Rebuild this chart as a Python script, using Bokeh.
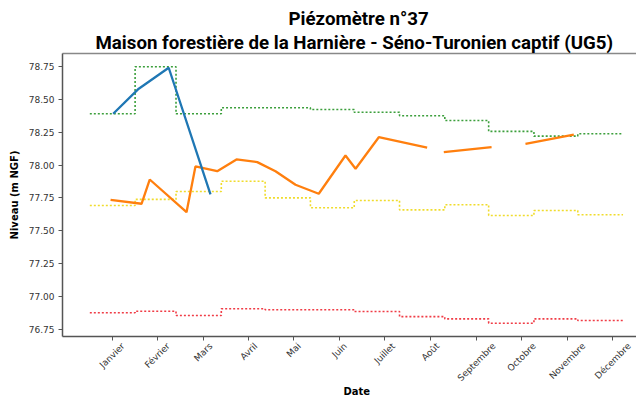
import math
from bokeh.plotting import figure
from bokeh.models import (FixedTicker, LinearAxis, Title, PrintfTickFormatter, Range1d)
from bokeh.embed import file_html
from bokeh.resources import INLINE

# ---------------- data ----------------
title_line1 = "Piézomètre n°37"
title_line2 = "Maison forestière de la Harnière - Séno-Turonien captif (UG5)"
x_label = "Date"
y_label = "Niveau (m NGF)"

month_labels = ["Janvier", "Février", "Mars", "Avril", "Mai", "Juin", "Juillet",
                "Août", "Septembre", "Octobre", "Novembre", "Décembre"]
month_tick_days = [15.3, 46.1, 77.6, 108.8, 139.6, 170.9, 201.9, 233.2,
                   264.7, 295.5, 326.8, 358.0]
month_start_days = [0, 31, 59, 90, 120, 151, 181, 212, 243, 273, 304, 334, 365]

y_ticks = [76.75, 77.00, 77.25, 77.50, 77.75, 78.00, 78.25, 78.50, 78.75]

green_levels = [78.389, 78.745, 78.389, 78.434, 78.434, 78.421, 78.400, 78.374,
                78.338, 78.255, 78.219, 78.237]
yellow_levels = [77.693, 77.739, 77.799, 77.877, 77.751, 77.676, 77.731, 77.660,
                 77.698, 77.617, 77.655, 77.623]
red_levels = [76.879, 76.891, 76.858, 76.909, 76.902, 76.902, 76.889, 76.850,
              76.833, 76.800, 76.833, 76.820]

blue_days = [16.0, 33.5, 54.0, 82.6]
blue_levels = [78.389, 78.579, 78.738, 77.777]

orange_days = [14.2, 35.4, 41.0, 66.2, 72.3, 87.2, 100.4, 114.6, 127.1, 140.8,
               156.7, 175.0, 181.9, 197.8, 230.9, 236.0, 242.3, 275.0, 286.0,
               298.2, 331.3]
orange_levels = [77.736, 77.706, 77.890, 77.642, 77.989, 77.953, 78.042, 78.022,
                 77.953, 77.850, 77.782, 78.072, 77.972, 78.211, 78.131,
                 float("nan"), 78.097, 78.135, float("nan"), 78.161, 78.230]

# ---------------- figure ----------------
W, H = 636, 401
B_LEFT, B_TOP, B_BOTTOM = 62, 53, 65
x0, x1 = -18.7, 374.2
p = figure(width=W, height=H, output_backend="svg", toolbar_location=None,
           x_range=Range1d(x0, x1), y_range=Range1d(76.699, 78.846),
           min_border_left=B_LEFT, min_border_right=0, min_border_top=B_TOP,
           min_border_bottom=B_BOTTOM, background_fill_color="white",
           border_fill_color="white", outline_line_color=None)
p.grid.visible = False

AX = "#555555"
# left axis
ya = p.yaxis[0]
ya.ticker = FixedTicker(ticks=y_ticks)
ya.formatter = PrintfTickFormatter(format="%.2f")
ya.major_label_text_font = "DejaVu Sans"
ya.major_label_text_font_size = "9px"
ya.major_label_text_color = "#333333"
ya.axis_line_color = AX
ya.axis_line_width = 1.5
ya.major_tick_line_color = AX
ya.major_tick_out = 4
ya.major_tick_in = 0
ya.minor_tick_line_color = None
ya.major_label_standoff = 4
ya.axis_label = y_label
ya.axis_label_text_font = "DejaVu Sans"
ya.axis_label_text_font_style = "bold"
ya.axis_label_text_font_size = "10px"
ya.axis_label_text_color = "black"
ya.axis_label_standoff = 6

# bottom axis: month tick marks as minor ticks, rotated month labels as major
# labels placed so that each rotated label box is centred on its tick
_w = {"J": .295, "F": .575, "M": .863, "A": .684, "S": .635, "O": .787, "N": .748,
      "D": .770, "a": .613, "b": .635, "c": .550, "e": .615, "é": .615, "i": .278,
      "l": .278, "m": .974, "n": .634, "o": .612, "p": .635, "r": .411, "s": .521,
      "t": .392, "u": .634, "û": .634, "v": .592}
fs = 9
px_per_day = (W - B_LEFT) / (x1 - x0)
half45 = math.cos(math.pi / 4) / 2
label_pos = []
for lab, t in zip(month_labels, month_tick_days):
    L = fs * sum(_w.get(ch, 0.6) for ch in lab)
    label_pos.append(round(t + half45 * L / px_per_day, 3))

xa = p.xaxis[0]
xa.ticker = FixedTicker(ticks=label_pos, minor_ticks=month_tick_days)
xa.major_label_overrides = {pos: lab for pos, lab in zip(label_pos, month_labels)}
xa.major_label_orientation = math.pi / 4
xa.major_label_text_font = "DejaVu Sans"
xa.major_label_text_font_size = f"{fs}px"
xa.major_label_text_color = "#333333"
xa.major_label_standoff = 4
xa.axis_line_color = AX
xa.axis_line_width = 1.5
xa.major_tick_line_color = None
xa.major_tick_out = 4
xa.major_tick_in = 0
xa.minor_tick_line_color = AX
xa.minor_tick_line_width = 1
xa.minor_tick_out = 4
xa.minor_tick_in = 0

p.add_layout(Title(text=x_label, align="left", offset=281, standoff=-12,
                   text_font="DejaVu Sans", text_font_style="bold",
                   text_font_size="10px", text_color="black"), "below")

# top border
top = LinearAxis(ticker=FixedTicker(ticks=[]), axis_line_color="#888888",
                 axis_line_width=1.5, major_tick_line_color=None,
                 minor_tick_line_color=None, major_label_standoff=0)
p.add_layout(top, "above")
p.add_layout(Title(text=title_line2, align="left", offset=33, standoff=0,
                   text_font="Roboto", text_font_style="bold",
                   text_font_size="18.7px", text_color="black"), "above")
p.add_layout(Title(text=title_line1, align="left", offset=226, standoff=0,
                   text_font="Roboto", text_font_style="bold",
                   text_font_size="18.7px", text_color="black"), "above")

# ---------------- series ----------------
dot = "2 2"
p.step(month_start_days, green_levels + [green_levels[-1]], mode="after",
       line_color="#3c9f3c", line_width=1.6, line_dash=dot)
p.step(month_start_days, yellow_levels + [yellow_levels[-1]], mode="after",
       line_color="#f0dc2c", line_width=1.6, line_dash=dot)
p.step(month_start_days, red_levels + [red_levels[-1]], mode="after",
       line_color="#f03c46", line_width=1.6, line_dash=dot)

p.line(orange_days, orange_levels, line_color="#ff7f0e", line_width=2.3)
p.line(blue_days, blue_levels, line_color="#1f77b4", line_width=2.3)

open("out.html", "w").write(file_html(p, INLINE))
